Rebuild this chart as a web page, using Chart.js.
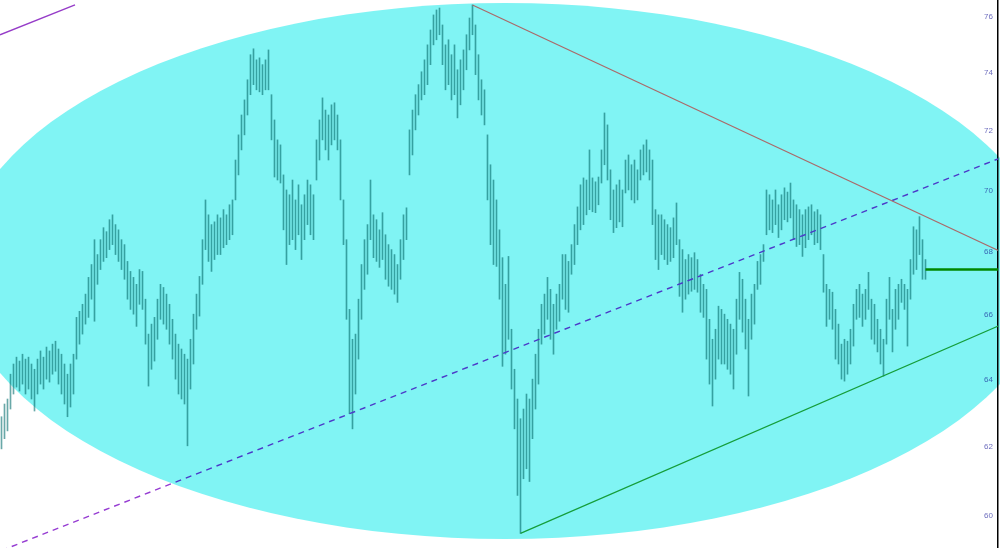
<!DOCTYPE html>
<html><head><meta charset="utf-8">
<script src="https://cdn.jsdelivr.net/npm/chart.js@4"></script>
<style>html,body{margin:0;padding:0;background:#fff;overflow:hidden}#wrap{width:1000px;height:548px;position:relative}</style>
</head><body><div id="wrap"><canvas id="c"></canvas></div>
<script>
// Bar highs / lows (one bar per session, left to right)
const highs=[
62.89,63.27,63.42,64.17,64.48,64.69,64.57,64.78,64.63,64.69,
64.48,64.32,64.63,64.88,64.69,65.00,64.88,65.09,65.18,64.94,
64.78,64.48,64.17,64.48,64.78,65.92,66.11,66.33,66.65,67.18,
67.59,68.39,67.91,68.39,68.78,68.65,69.04,69.20,68.88,68.71,
68.39,68.23,67.69,67.37,67.18,66.96,67.43,67.37,66.49,65.40,
65.71,65.92,66.49,66.96,66.86,66.65,66.33,65.86,65.40,65.09,
64.94,64.78,64.63,65.24,66.02,66.65,67.21,68.39,69.69,69.20,
68.88,68.97,69.20,69.10,69.37,69.20,69.53,69.69,71.02,71.87,
72.55,73.07,73.77,74.65,74.86,74.47,74.54,74.30,74.47,74.82,
73.25,72.38,71.70,71.53,70.52,70.02,69.86,70.35,69.69,70.19,
69.53,69.86,70.35,70.19,69.86,71.70,72.38,73.14,72.72,72.55,
72.90,72.97,72.55,71.70,69.69,68.39,66.17,65.24,65.40,66.49,
67.59,68.39,68.88,70.35,69.20,69.04,68.71,69.27,68.55,68.23,
68.07,67.91,67.59,68.39,69.20,69.43,72.04,72.72,73.25,73.60,
74.05,74.47,75.00,75.53,76.07,76.25,76.32,75.71,75.00,75.18,
74.65,75.00,74.12,74.47,74.82,75.36,75.96,76.43,75.71,74.65,
73.77,73.42,71.87,70.86,70.35,69.69,68.71,67.81,66.96,67.85,
65.55,64.32,63.42,62.83,63.12,63.57,63.42,64.02,64.78,65.55,
66.33,66.65,67.18,66.80,66.33,66.65,66.96,67.91,67.91,67.69,
68.23,68.88,69.46,70.19,70.42,70.35,71.36,70.42,70.29,70.45,
71.36,72.62,72.21,70.69,70.02,70.19,70.35,70.02,71.02,71.19,
70.86,71.02,70.69,71.36,71.53,71.70,71.36,71.02,69.37,69.20,
69.20,69.04,68.88,68.78,69.10,69.59,68.39,68.07,67.75,67.91,
67.81,67.97,67.75,67.28,66.96,66.80,65.86,65.24,65.55,66.27,
66.17,66.02,65.86,65.71,65.55,66.49,67.34,67.12,66.49,65.86,
66.65,66.96,67.69,67.91,68.23,70.02,69.86,69.69,70.02,69.53,
69.86,70.09,69.95,70.25,69.69,69.53,69.37,69.20,69.37,69.46,
69.53,69.30,69.37,69.20,67.91,66.96,66.80,66.71,66.17,65.71,
65.09,65.24,65.18,65.55,66.33,66.80,66.96,66.65,66.80,67.34,
66.49,66.33,65.86,65.55,65.24,66.49,67.18,66.17,66.80,66.96,
67.12,66.96,66.80,67.75,68.81,68.71,69.14,68.39,67.75];
const lows=[
61.94,62.24,62.47,63.12,63.57,63.78,63.66,63.87,63.57,63.72,
63.42,63.06,63.57,63.87,63.72,64.02,63.93,64.17,64.26,63.87,
63.57,63.27,62.89,63.18,63.57,64.63,65.09,65.40,65.71,65.92,
66.49,65.80,66.96,67.43,67.69,67.81,68.07,68.23,67.91,67.69,
67.43,67.12,66.49,66.17,66.02,65.64,66.33,66.17,65.09,63.81,
64.32,64.57,65.24,65.86,65.71,65.55,65.09,64.63,64.02,63.57,
63.42,63.27,62.03,63.72,64.48,65.55,65.96,66.96,68.07,67.69,
67.37,67.75,67.91,67.91,68.13,68.23,68.39,68.55,69.69,70.52,
71.36,71.87,72.55,73.25,73.60,73.42,73.35,73.25,73.42,73.42,
71.70,70.45,70.35,70.25,68.71,67.59,68.23,68.39,68.07,68.55,
67.75,68.39,68.88,68.55,68.39,70.35,71.02,71.70,71.36,71.02,
71.53,71.70,71.36,69.69,68.23,65.86,62.98,62.53,63.57,64.63,
65.86,66.80,67.28,68.39,67.81,67.69,67.50,67.75,67.12,66.90,
66.80,66.65,66.39,67.12,67.75,68.39,70.52,71.19,72.04,72.55,
73.07,73.25,73.60,74.30,75.00,75.18,75.36,74.30,73.42,73.60,
73.07,73.25,72.45,72.90,73.42,74.12,74.82,75.36,73.95,73.07,
72.55,72.21,69.69,68.23,67.59,67.53,66.49,64.41,64.78,65.24,
63.72,62.53,60.59,59.51,61.07,61.36,60.99,62.24,63.12,63.87,
65.09,65.40,65.86,65.24,64.78,65.55,65.80,66.49,66.17,66.08,
67.28,67.59,68.23,68.71,68.88,69.20,69.37,69.30,69.27,69.53,
70.25,70.86,70.35,69.04,68.62,68.78,68.97,68.81,69.92,70.02,
69.69,69.59,69.69,70.35,70.52,70.62,70.35,68.88,67.75,67.43,
67.91,67.75,67.59,67.69,67.81,68.23,66.58,66.08,66.49,66.65,
66.74,66.80,66.71,66.08,65.92,64.63,63.87,63.21,64.02,64.63,
64.48,64.48,64.32,64.17,63.72,64.78,65.86,65.46,64.94,63.51,
65.24,65.71,66.80,66.96,67.69,68.55,68.71,68.62,68.88,68.46,
68.71,69.04,68.97,69.10,68.39,68.17,68.23,67.85,68.13,68.39,
68.55,68.23,68.29,68.07,66.71,65.64,65.86,65.55,64.63,64.48,
64.02,63.96,64.17,64.48,65.03,65.86,65.92,65.64,65.86,66.17,
65.24,65.09,64.85,64.48,64.11,65.09,65.86,64.85,65.55,65.86,
66.39,66.17,65.03,66.49,67.28,67.43,67.91,67.12,67.12];
// Price-axis labels
const tickLabels=[60,62,64,66,68,70,72,74,76];
// Drawn lines: [bar index, price]
const resistanceLine=[[157,76.43],[333,68.01]];
const supportLine=[[173,59.51],[333,65.68]];
const channelLine=[[0,59.03],[333,71.09]];
const upperChannel=[[-0.5,75.36],[24.5,76.43]];
const levelLine=[[308,67.43],[333,67.43]];

const pts=a=>a.map(p=>({x:p[0],y:p[1]}));
const n=Math.min(highs.length,lows.length);
const bars=[];for(let i=0;i<n;i++)bars.push({x:i,y:[lows[i],highs[i]]});
const lineDs=(d,color,w,dash,order,over)=>({type:'line',data:pts(d),borderColor:color,borderWidth:w,borderDash:dash||[],pointRadius:0,tension:0,fill:false,order:order,overEllipse:!!over});

function paintEllipse(c){const x=c.ctx;x.save();x.globalCompositeOperation='multiply';x.fillStyle='rgb(128,244,244)';x.beginPath();x.ellipse(505,271,546,268,0,0,Math.PI*2);x.fill();x.restore();}
const ellipse={id:'ellipse',
 beforeDraw(c){c.$ellDone=false;const x=c.ctx;x.save();x.fillStyle='#fff';x.fillRect(0,0,c.width,c.height);x.restore();},
 beforeDatasetDraw(c,args){const ds=c.data.datasets[args.index];if(ds.overEllipse&&!c.$ellDone){paintEllipse(c);c.$ellDone=true;}},
 afterDatasetsDraw(c){if(!c.$ellDone){paintEllipse(c);c.$ellDone=true;}}};

new Chart(document.getElementById('c'),{
 type:'bar',
 data:{datasets:[
  {type:'bar',data:bars,backgroundColor:'rgb(105,168,168)',borderWidth:0,barThickness:1,grouped:false,order:5},
  lineDs(resistanceLine,'rgb(170,105,105)',1.2,null,0,true),
  lineDs(supportLine,'rgb(40,165,60)',1.2,null,2),
  lineDs(channelLine,'rgb(150,60,210)',1.4,[6,5],2),
  lineDs(upperChannel,'rgb(150,60,200)',1.4,null,2),
  lineDs(levelLine,'rgb(0,140,0)',2.5,null,2)
 ]},
 options:{responsive:true,maintainAspectRatio:false,animation:false,
  layout:{padding:0},
  plugins:{legend:{display:false},tooltip:{enabled:false}},
  scales:{
   x:{type:'linear',display:false,min:-0.5,max:332.17,offset:false},
   y:{type:'logarithmic',position:'right',min:59.10,max:76.61,
      grid:{display:false,drawTicks:false},
      border:{display:true,color:'#000',width:1.5},
      afterBuildTicks(s){s.ticks=tickLabels.map(v=>({value:v}));},
      afterFit(s){s.width=2;s.paddingTop=0;s.paddingBottom=0;},
      ticks:{mirror:true,padding:-5,autoSkip:false,color:'rgb(110,110,190)',font:{family:'Liberation Sans',size:8},callback:v=>String(v)}}
  }},
 plugins:[ellipse]
});
</script></body></html>
